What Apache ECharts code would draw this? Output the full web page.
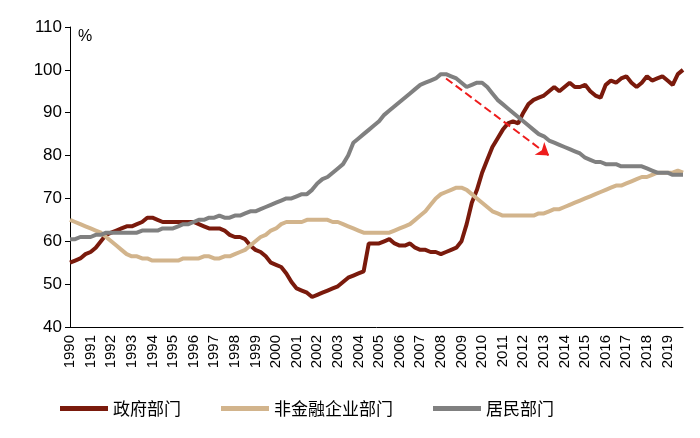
<!DOCTYPE html>
<html>
<head>
<meta charset="utf-8">
<script src="https://cdn.jsdelivr.net/npm/echarts@6/dist/echarts.min.js"></script>
<style>html,body{margin:0;padding:0;background:#fff}#main{width:700px;height:438px}</style>
</head>
<body>
<div id="main"></div>
<script>
const years = [];
for (let y = 1990; y <= 2019; y++) years.push(y);
const quarters = [];
years.forEach(y => { for (let q = 1; q <= 4; q++) quarters.push(y + 'Q' + q); });

const government = [
    55, 55.5, 56, 57, 57.5, 58.5, 60, 61.5, 62, 62.5, 63, 63.5, 63.5, 64, 64.5, 65.5,
    65.5, 65, 64.5, 64.5, 64.5, 64.5, 64.5, 64.5, 64.5, 64, 63.5, 63, 63, 63, 62.5, 61.5,
    61, 61, 60.5, 59, 58, 57.5, 56.5, 55, 54.5, 54, 52.5, 50.5, 49, 48.5, 48, 47,
    47.5, 48, 48.5, 49, 49.5, 50.5, 51.5, 52, 52.5, 53, 59.5, 59.5, 59.5, 60, 60.5, 59.5,
    59, 59, 59.5, 58.5, 58, 58, 57.5, 57.5, 57, 57.5, 58, 58.5, 60, 64, 69, 72,
    76, 79, 82, 84, 86, 87.5, 88, 87.5, 90, 92, 93, 93.5, 94, 95, 96, 95,
    96, 97, 96, 96, 96.5, 95, 94, 93.5, 96.5, 97.5, 97, 98, 98.5, 97, 96, 97,
    98.5, 97.5, 98, 98.5, 97.5, 96.5, 99, 100
];
const corporate = [
    65, 64.5, 64, 63.5, 63, 62.5, 62, 61, 60, 59, 58, 57, 56.5, 56.5, 56, 56,
    55.5, 55.5, 55.5, 55.5, 55.5, 55.5, 56, 56, 56, 56, 56.5, 56.5, 56, 56, 56.5, 56.5,
    57, 57.5, 58, 59, 60, 61, 61.5, 62.5, 63, 64, 64.5, 64.5, 64.5, 64.5, 65, 65,
    65, 65, 65, 64.5, 64.5, 64, 63.5, 63, 62.5, 62, 62, 62, 62, 62, 62, 62.5,
    63, 63.5, 64, 65, 66, 67, 68.5, 70, 71, 71.5, 72, 72.5, 72.5, 72, 71, 70,
    69, 68, 67, 66.5, 66, 66, 66, 66, 66, 66, 66, 66.5, 66.5, 67, 67.5, 67.5,
    68, 68.5, 69, 69.5, 70, 70.5, 71, 71.5, 72, 72.5, 73, 73, 73.5, 74, 74.5, 75,
    75, 75.5, 76, 76, 76, 76, 76.5, 76
];
const household = [
    60.5, 60.5, 61, 61, 61, 61.5, 61.5, 62, 62, 62, 62, 62, 62, 62, 62.5, 62.5,
    62.5, 62.5, 63, 63, 63, 63.5, 64, 64, 64.5, 65, 65, 65.5, 65.5, 66, 65.5, 65.5,
    66, 66, 66.5, 67, 67, 67.5, 68, 68.5, 69, 69.5, 70, 70, 70.5, 71, 71, 72,
    73.5, 74.5, 75, 76, 77, 78, 80, 83, 84, 85, 86, 87, 88, 89.5, 90.5, 91.5,
    92.5, 93.5, 94.5, 95.5, 96.5, 97, 97.5, 98, 99, 99, 98.5, 98, 97, 96, 96.5, 97,
    97, 96, 94.5, 93, 92, 91, 90, 89, 88, 87, 86, 85, 84.5, 83.5, 83, 82.5,
    82, 81.5, 81, 80.5, 79.5, 79, 78.5, 78.5, 78, 78, 78, 77.5, 77.5, 77.5, 77.5, 77.5,
    77, 76.5, 76, 76, 76, 75.5, 75.5, 75.5
];
const arrowFrom = ['2008Q2', 98];
const arrowTo = ['2013Q2', 80];

const chart = echarts.init(document.getElementById('main'));
const font = "'Noto Sans CJK SC', 'Liberation Sans', sans-serif";

chart.setOption({
    backgroundColor: '#fff',
    animation: false,
    grid: {left: 70, right: 17, top: 27, bottom: 111},
    legend: {
        bottom: 16,
        left: 55,
        itemWidth: 48,
        itemHeight: 5,
        itemGap: 40,
        icon: 'rect',
        textStyle: {fontFamily: font, fontSize: 17, color: '#000'},
        data: ['政府部门', '非金融企业部门', '居民部门']
    },
    xAxis: {
        type: 'category',
        boundaryGap: false,
        data: quarters,
        axisLine: {lineStyle: {color: '#000'}},
        axisTick: {show: false},
        axisLabel: {
            interval: 3,
            rotate: 90,
            color: '#000',
            fontSize: 15,
            fontFamily: 'Liberation Sans',
            formatter: v => v.slice(0, 4)
        }
    },
    yAxis: {
        type: 'value',
        min: 40,
        max: 110,
        interval: 10,
        name: '%',
        nameLocation: 'end',
        nameGap: 0,
        nameTextStyle: {color: '#000', fontSize: 16, align: 'left', padding: [0, 0, -18, 8]},
        axisLine: {show: true, lineStyle: {color: '#000'}},
        axisTick: {show: true, length: 5, lineStyle: {color: '#000'}},
        splitLine: {show: false},
        axisLabel: {color: '#000', fontSize: 17, fontFamily: 'Liberation Sans'}
    },
    series: [
        {
            name: '政府部门',
            type: 'line',
            data: government,
            showSymbol: false,
            itemStyle: {color: '#7a1a0c'},
            lineStyle: {color: '#7a1a0c', width: 4},
            markLine: {
                silent: true,
                symbol: ['none', 'arrow'],
                symbolSize: 12,
                label: {show: false},
                lineStyle: {color: '#ee1c1c', type: 'dashed', width: 2},
                data: [[{coord: arrowFrom}, {coord: arrowTo}]]
            }
        },
        {
            name: '非金融企业部门',
            type: 'line',
            data: corporate,
            showSymbol: false,
            itemStyle: {color: '#d2b48c'},
            lineStyle: {color: '#d2b48c', width: 4}
        },
        {
            name: '居民部门',
            type: 'line',
            data: household,
            showSymbol: false,
            itemStyle: {color: '#808080'},
            lineStyle: {color: '#808080', width: 4}
        }
    ]
});
</script>
</body>
</html>
